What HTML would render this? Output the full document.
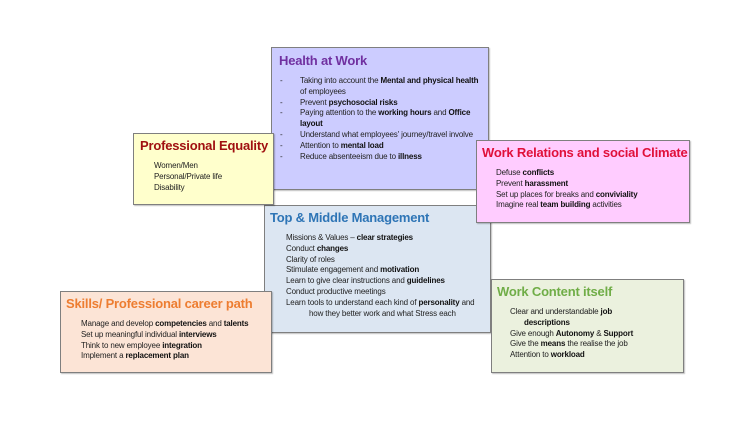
<!DOCTYPE html>
<html><head><meta charset="utf-8"><style>
body{margin:0;width:750px;height:421px;background:#fff;position:relative;overflow:hidden;font-family:"Liberation Sans",sans-serif;}
.b{position:absolute;box-sizing:border-box;border:1px solid #7f7f7f;box-shadow:1px 1px 1px rgba(0,0,0,.25);}
.t{position:absolute;font-weight:bold;font-size:13px;white-space:nowrap;letter-spacing:-0.2px}
.l{position:absolute;font-size:8px;line-height:10.8px;color:#222;white-space:nowrap;letter-spacing:-0.15px}
.l b{color:#111}
.d{position:absolute;left:-20px}
</style></head><body>
<div class="b" style="left:271px;top:47px;width:218px;height:143px;background:#ccccff">
 <div class="t" style="left:7px;top:5px;color:#7030a0">Health at Work</div>
 <div class="l" style="left:28px;top:28px">
  <div style="position:relative"><span class="d">-</span>Taking into account the <b>Mental and physical health</b></div>
  <div>of employees</div>
  <div style="position:relative"><span class="d">-</span>Prevent <b>psychosocial risks</b></div>
  <div style="position:relative"><span class="d">-</span>Paying attention to the <b>working hours</b> and <b>Office</b></div>
  <div><b>layout</b></div>
  <div style="position:relative"><span class="d">-</span>Understand what employees' journey/travel involve</div>
  <div style="position:relative"><span class="d">-</span>Attention to <b>mental load</b></div>
  <div style="position:relative"><span class="d">-</span>Reduce absenteeism due to <b>illness</b></div>
 </div>
</div>
<div class="b" style="left:264px;top:205px;width:227px;height:128px;background:#dce6f2">
 <div class="t" style="left:5px;top:4px;color:#2e75b6">Top &amp; Middle Management</div>
 <div class="l" style="left:21px;top:27px">
  <div>Missions &amp; Values – <b>clear strategies</b></div>
  <div>Conduct <b>changes</b></div>
  <div>Clarity of roles</div>
  <div>Stimulate engagement and <b>motivation</b></div>
  <div>Learn to give clear instructions and <b>guidelines</b></div>
  <div>Conduct productive meetings</div>
  <div>Learn tools to understand each kind of <b>personality</b> and</div>
  <div style="padding-left:23px">how they better work and what Stress each</div>
 </div>
</div>
<div class="b" style="left:133px;top:133px;width:141px;height:72px;background:#ffffcc">
 <div class="t" style="left:6px;top:4px;color:#a01010">Professional Equality</div>
 <div class="l" style="left:20px;top:27px">
  <div>Women/Men</div><div>Personal/Private life</div><div>Disability</div>
 </div>
</div>
<div class="b" style="left:476px;top:140px;width:214px;height:83px;background:#ffccff">
 <div class="t" style="left:5px;top:4px;color:#e0103a">Work Relations and social Climate</div>
 <div class="l" style="left:19px;top:27px">
  <div>Defuse <b>conflicts</b></div><div>Prevent <b>harassment</b></div>
  <div>Set up places for breaks and <b>conviviality</b></div>
  <div>Imagine real <b>team building</b> activities</div>
 </div>
</div>
<div class="b" style="left:60px;top:291px;width:212px;height:82px;background:#fce4d6">
 <div class="t" style="left:5px;top:4px;color:#ed7d31">Skills/ Professional career path</div>
 <div class="l" style="left:20px;top:27px">
  <div>Manage and develop <b>competencies</b> and <b>talents</b></div>
  <div>Set up meaningful individual <b>interviews</b></div>
  <div>Think to new employee <b>integration</b></div>
  <div>Implement a <b>replacement plan</b></div>
 </div>
</div>
<div class="b" style="left:491px;top:279px;width:193px;height:94px;background:#ebf1de">
 <div class="t" style="left:5px;top:4px;color:#70ad47">Work Content itself</div>
 <div class="l" style="left:18px;top:27px">
  <div>Clear and understandable <b>job</b></div>
  <div style="padding-left:14px"><b>descriptions</b></div>
  <div>Give enough <b>Autonomy</b> &amp; <b>Support</b></div>
  <div>Give the <b>means</b> the realise the job</div>
  <div>Attention to <b>workload</b></div>
 </div>
</div>
</body></html>
